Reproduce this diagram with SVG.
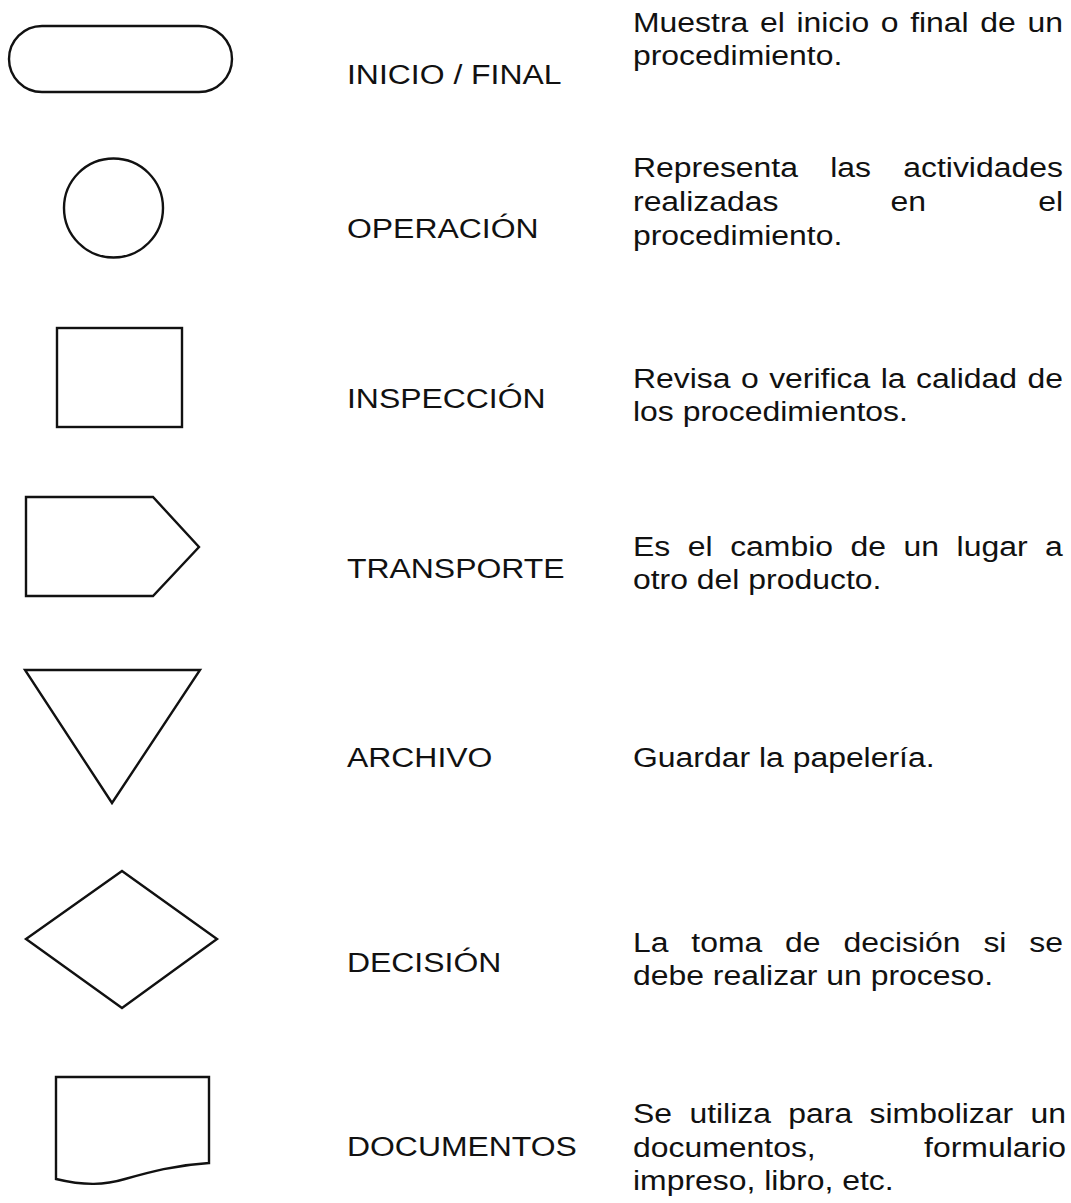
<svg xmlns="http://www.w3.org/2000/svg" width="1071" height="1203" viewBox="0 0 1071 1203">
<style>
.s{fill:none;stroke:#111;stroke-width:2.4;stroke-linejoin:miter}
text{font-family:"Liberation Sans",Arial,sans-serif;font-size:28px;fill:#111}
</style>
<rect width="1071" height="1203" fill="#fff"/>
<g id="inicio-final">
<rect class="s" x="9" y="26" width="223" height="66" rx="33" ry="33"/>
<text transform="translate(347,84) scale(1.14,1)">INICIO / FINAL</text>
<text transform="translate(633,32) scale(1.14,1)" word-spacing="2.44">Muestra el inicio o final de un</text>
<text transform="translate(633,65) scale(1.14,1)">procedimiento.</text>
</g>
<g id="operacion">
<circle class="s" cx="113.5" cy="208" r="49.5"/>
<text transform="translate(347,238) scale(1.14,1)">OPERACIÓN</text>
<text transform="translate(633,177) scale(1.14,1)" word-spacing="20.5">Representa las actividades</text>
<text transform="translate(633,211) scale(1.14,1)" word-spacing="90.6">realizadas en el</text>
<text transform="translate(633,245) scale(1.14,1)">procedimiento.</text>
</g>
<g id="inspeccion">
<rect class="s" x="57" y="328" width="125" height="99"/>
<text transform="translate(347,408) scale(1.14,1)">INSPECCIÓN</text>
<text transform="translate(633,388) scale(1.14,1)" word-spacing="1.38">Revisa o verifica la calidad de</text>
<text transform="translate(633,421) scale(1.14,1)">los procedimientos.</text>
</g>
<g id="transporte">
<polygon class="s" points="26,497 153,497 199,547 153,596 26,596"/>
<text transform="translate(347,578) scale(1.14,1)">TRANSPORTE</text>
<text transform="translate(633,556) scale(1.14,1)" word-spacing="7.6">Es el cambio de un lugar a</text>
<text transform="translate(633,589) scale(1.14,1)">otro del producto.</text>
</g>
<g id="archivo">
<polygon class="s" points="25,670 200,670 112,803"/>
<text transform="translate(347,767) scale(1.14,1)">ARCHIVO</text>
<text transform="translate(633,767) scale(1.14,1)">Guardar la papelería.</text>
</g>
<g id="decision">
<polygon class="s" points="122,871 217,939 122,1008 26,939"/>
<text transform="translate(347,972) scale(1.14,1)">DECISIÓN</text>
<text transform="translate(633,952) scale(1.14,1)" word-spacing="12.26">La toma de decisión si se</text>
<text transform="translate(633,985) scale(1.14,1)">debe realizar un proceso.</text>
</g>
<g id="documentos">
<path class="s" d="M56,1077 H209 V1163 C175,1165 150,1172 125,1179 C105,1185 85,1186 56,1179 Z"/>
<text transform="translate(347,1156) scale(1.14,1)">DOCUMENTOS</text>
<text transform="translate(633,1123) scale(1.14,1)" word-spacing="7.44">Se utiliza para simbolizar un</text>
<text transform="translate(633,1157) scale(1.14,1)" word-spacing="87.3">documentos, formulario</text>
<text transform="translate(633,1190) scale(1.14,1)">impreso, libro, etc.</text>
</g>
<g id="connectors"/>
</svg>
